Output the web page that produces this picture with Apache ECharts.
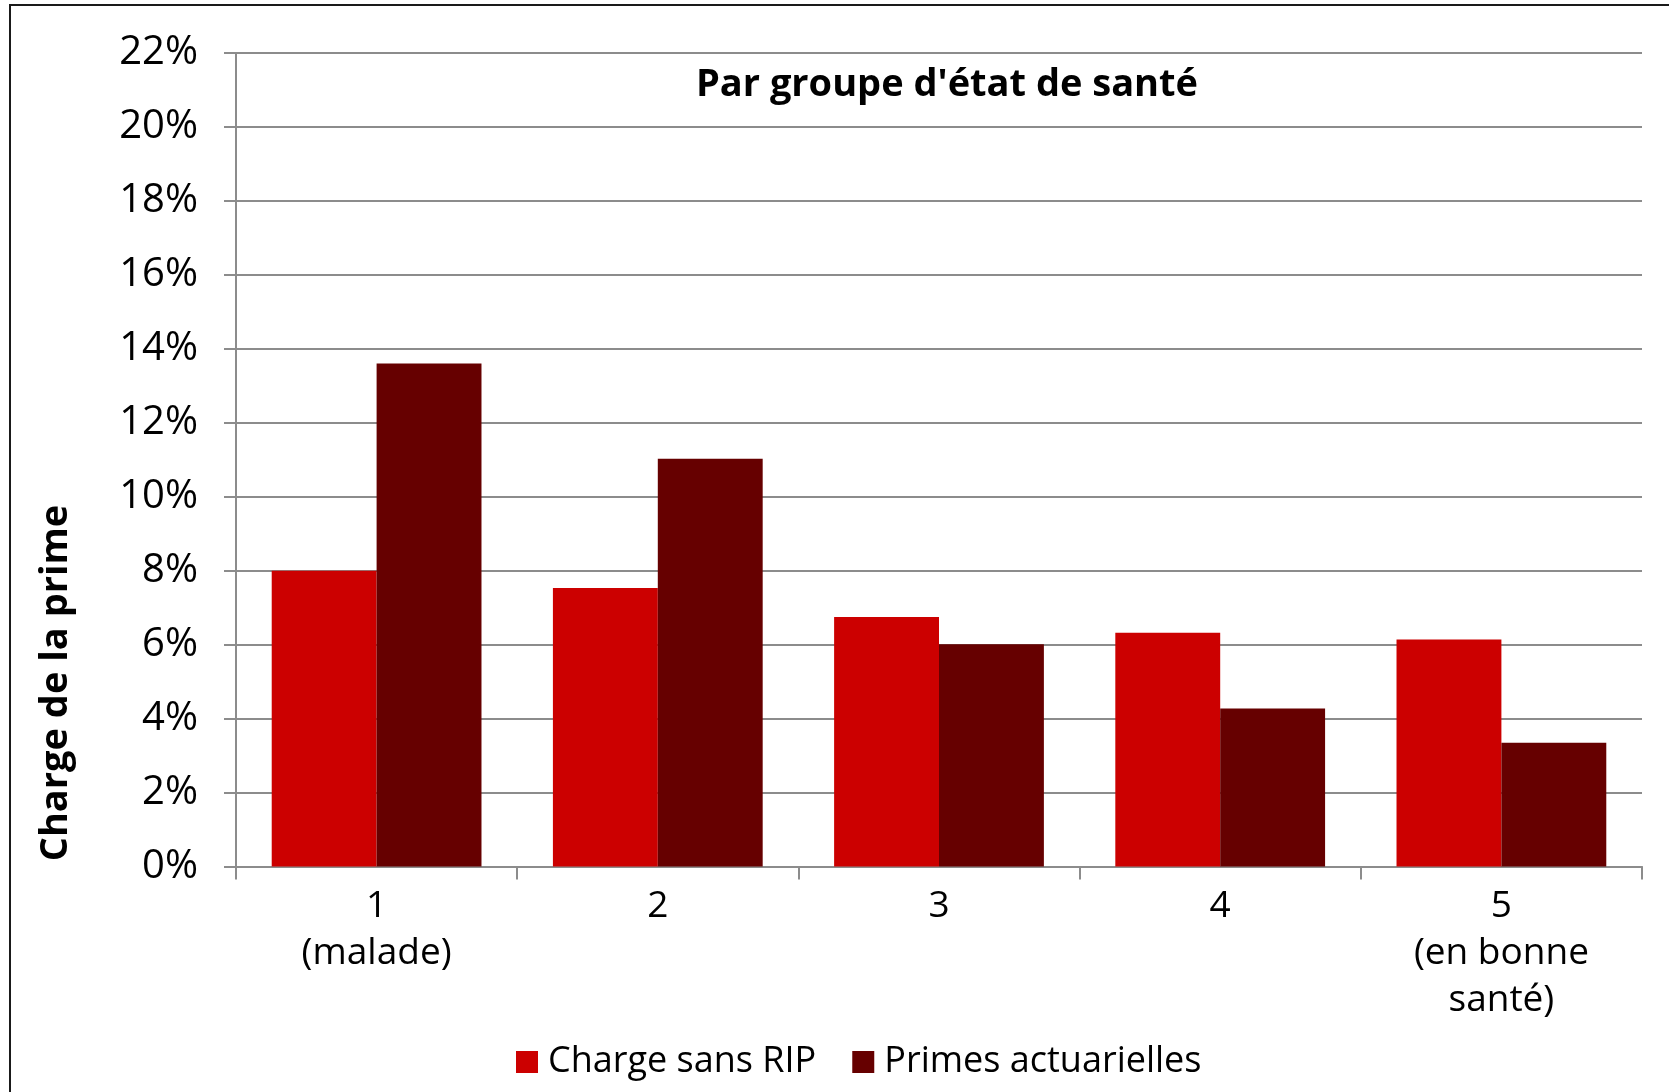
<!DOCTYPE html>
<html>
<head>
<meta charset="utf-8">
<title>Par groupe d'état de santé</title>
<script src="https://cdn.jsdelivr.net/npm/echarts@6/dist/echarts.min.js"></script>
<style>
  html, body { margin: 0; padding: 0; background: #fff; overflow: hidden; }
  .frame {
    position: absolute;
    left: 9px;
    top: 4px;
    width: 1720px;
    height: 1200px;
    border: 2px solid #1a1a1a;
  }
  #chart { position: absolute; left: 0; top: 0; width: 1669px; height: 1092px; }
</style>
</head>
<body>
<div class="frame"></div>
<div id="chart"></div>
<script>
// categories (health groups)
const groups = ["1\n(malade)", "2", "3", "4", "5\n(en bonne\nsanté)"];
// values in % of premium
const chargeSansRip = [8.0, 7.53, 6.75, 6.32, 6.14];
const primesActuarielles = [13.6, 11.03, 6.01, 4.27, 3.35];
const seriesNames = ["Charge sans RIP", "Primes actuarielles"];

const font = "'Open Sans', 'Noto Sans', sans-serif";
const gray = "#8c8c8c";

const chart = echarts.init(document.getElementById("chart"));

chart.setOption({
  animation: false,
  textStyle: { fontFamily: font },
  title: {
    text: "Par groupe d'état de santé",
    left: 942,
    top: 61,
    textAlign: "center",
    textStyle: { fontFamily: font, fontSize: 38, fontWeight: "bold", color: "#000" },
  },
  grid: { left: 236, right: 27, top: 53, bottom: 225.5 },
  legend: {
    left: 516,
    top: 1044,
    padding: 0,
    itemWidth: 22,
    itemHeight: 22,
    itemGap: 36,
    icon: "rect",
    textStyle: { fontFamily: font, fontSize: 36, color: "#000", padding: [0, 0, 0, 5] },
    data: seriesNames,
  },
  xAxis: {
    type: "category",
    data: groups,
    axisLine: { lineStyle: { color: gray, width: 2 } },
    axisTick: { show: true, length: 13, lineStyle: { color: gray, width: 2 } },
    axisLabel: {
      interval: 0,
      margin: 16,
      fontFamily: font,
      fontSize: 37,
      lineHeight: 47,
      color: "#000",
    },
  },
  yAxis: {
    type: "value",
    min: 0,
    max: 22,
    interval: 2,
    axisLine: { show: true, lineStyle: { color: gray, width: 2 } },
    axisTick: { show: true, length: 12, lineStyle: { color: gray, width: 2 } },
    splitLine: { lineStyle: { color: gray, width: 2 } },
    axisLabel: {
      formatter: "{value}%",
      margin: 38,
      fontFamily: font,
      fontSize: 40,
      color: "#000",
    },
  },
  graphic: [
    {
      type: "text",
      x: 56,
      y: 683,
      rotation: Math.PI / 2,
      style: {
        text: "Charge de la prime",
        fontFamily: font,
        fontSize: 38,
        fontWeight: "bold",
        fill: "#000",
        textAlign: "center",
        textVerticalAlign: "middle",
      },
    },
  ],
  series: [
    {
      name: seriesNames[0],
      type: "bar",
      data: chargeSansRip,
      barGap: "0%",
      barCategoryGap: "25.4%",
      itemStyle: { color: "#cc0000" },
    },
    {
      name: seriesNames[1],
      type: "bar",
      data: primesActuarielles,
      barGap: "0%",
      barCategoryGap: "25.4%",
      itemStyle: { color: "#660000" },
    },
  ],
});
</script>
</body>
</html>
